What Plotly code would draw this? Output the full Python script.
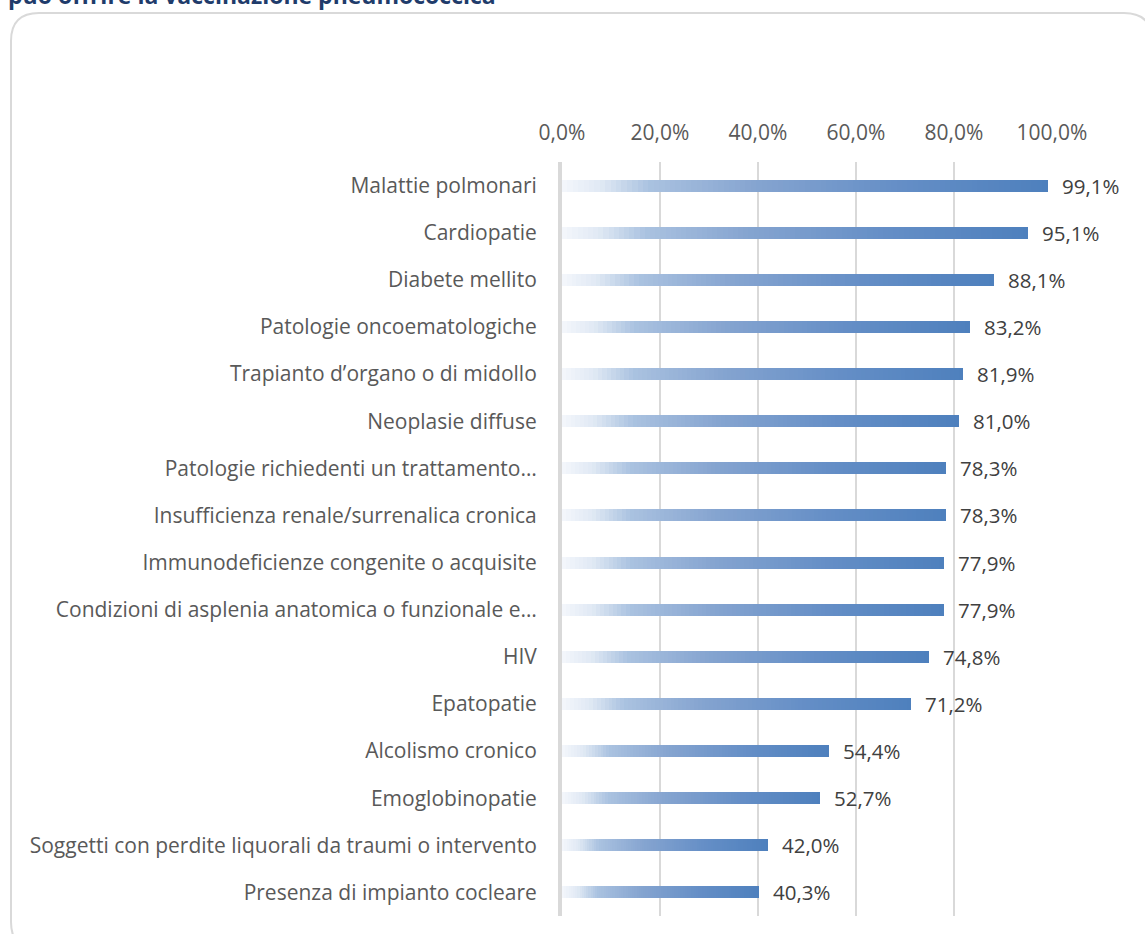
import plotly.graph_objects as go

# Condizioni per cui si può offrire la vaccinazione pneumococcica (% di risposte)
categories = [
    "Malattie polmonari",
    "Cardiopatie",
    "Diabete mellito",
    "Patologie oncoematologiche",
    "Trapianto d\u2019organo o di midollo",
    "Neoplasie diffuse",
    "Patologie richiedenti un trattamento\u2026",
    "Insufficienza renale/surrenalica cronica",
    "Immunodeficienze congenite o acquisite",
    "Condizioni di asplenia anatomica o funzionale e\u2026",
    "HIV",
    "Epatopatie",
    "Alcolismo cronico",
    "Emoglobinopatie",
    "Soggetti con perdite liquorali da traumi o intervento",
    "Presenza di impianto cocleare",
]
values = [99.1, 95.1, 88.1, 83.2, 81.9, 81.0, 78.3, 78.3, 77.9, 77.9, 74.8, 71.2, 54.4, 52.7, 42.0, 40.3]
tick_values = [0, 20, 40, 60, 80, 100]
tick_labels = ["0,0%", "20,0%", "40,0%", "60,0%", "80,0%", "100,0%"]
title_text = "può offrire la vaccinazione pneumococcica"

FONT = "Open Sans"
FIG_W, FIG_H = 1145, 934
M_L, M_R, M_T, M_B = 562, 93, 162, 18
PW = FIG_W - M_L - M_R
PH = FIG_H - M_T - M_B

# gradient stops along each bar (fraction of bar length -> rgb)
stops = [
    (0.00, (244, 247, 252)),
    (0.08, (224, 233, 244)),
    (0.18, (170, 194, 224)),
    (0.40, (133, 164, 208)),
    (0.70, (100, 142, 198)),
    (1.00, (78, 128, 189)),
]


def grad_color(t):
    for (t0, c0), (t1, c1) in zip(stops[:-1], stops[1:]):
        if t <= t1:
            f = (t - t0) / (t1 - t0)
            r, g, b = (round(a + (b_ - a) * f) for a, b_ in zip(c0, c1))
            return f"rgb({r},{g},{b})"
    r, g, b = stops[-1][1]
    return f"rgb({r},{g},{b})"


fig = go.Figure()

# each bar is painted as overlapping slices, each running from its start to the bar end
N = 90
for k in range(N):
    t = k / N
    fig.add_trace(go.Bar(
        y=categories,
        x=[v * (1 - t) for v in values],
        base=[v * t for v in values],
        orientation="h",
        width=0.255,
        marker=dict(color=grad_color(t + 0.5 / N), line=dict(width=0)),
        hoverinfo="skip",
        showlegend=False,
    ))

# value labels at the bar ends
for c, v in zip(categories, values):
    fig.add_annotation(
        x=v, y=c, xref="x", yref="y",
        text=f"{v:.1f}%".replace(".", ","),
        showarrow=False, xanchor="left", yanchor="middle", xshift=12,
        font=dict(family=FONT, size=20.5, color="#404040"),
    )


def px_x(p):
    return (p - M_L) / PW


def px_y(p):
    return (FIG_H - M_B - p) / PH


# rounded frame around the chart
left, top, right, bottom, r = 11, 13, 1152, 950, 28
path = (
    f"M {px_x(left + r)},{px_y(top)} L {px_x(right - r)},{px_y(top)} "
    f"Q {px_x(right)},{px_y(top)} {px_x(right)},{px_y(top + r)} "
    f"L {px_x(right)},{px_y(bottom - r)} "
    f"Q {px_x(right)},{px_y(bottom)} {px_x(right - r)},{px_y(bottom)} "
    f"L {px_x(left + r)},{px_y(bottom)} "
    f"Q {px_x(left)},{px_y(bottom)} {px_x(left)},{px_y(bottom - r)} "
    f"L {px_x(left)},{px_y(top + r)} "
    f"Q {px_x(left)},{px_y(top)} {px_x(left + r)},{px_y(top)} Z"
)
fig.add_shape(type="path", path=path, xref="paper", yref="paper",
              line=dict(color="#d9d9d9", width=2), layer="below")

# heading above the frame
fig.add_annotation(
    x=px_x(6), y=px_y(13), xref="paper", yref="paper",
    text=f"<b>{title_text}</b>", showarrow=False,
    xanchor="left", yanchor="bottom",
    font=dict(family=FONT, size=23, color="#1f3c6b"),
)

fig.update_layout(
    width=FIG_W, height=FIG_H,
    margin=dict(l=M_L, r=M_R, t=M_T, b=M_B),
    paper_bgcolor="white", plot_bgcolor="white",
    barmode="overlay",
    bargap=0,
    showlegend=False,
    font=dict(family=FONT, size=21, color="#595959"),
    xaxis=dict(
        side="top", range=[0, 100],
        tickvals=tick_values, ticktext=tick_labels,
        showgrid=True, gridcolor="#d9d9d9", gridwidth=2,
        zeroline=False, showline=False, ticks="",
        ticklabelstandoff=17,
        tickfont=dict(family=FONT, size=21, color="#595959"),
        fixedrange=True,
    ),
    yaxis=dict(
        type="category", autorange="reversed",
        showgrid=False, zeroline=False,
        showline=True, linecolor="#d9d9d9", linewidth=4,
        ticks="", ticklabelstandoff=17,
        tickfont=dict(family=FONT, size=21, color="#595959"),
        fixedrange=True,
    ),
)

fig.write_html("out.html")
